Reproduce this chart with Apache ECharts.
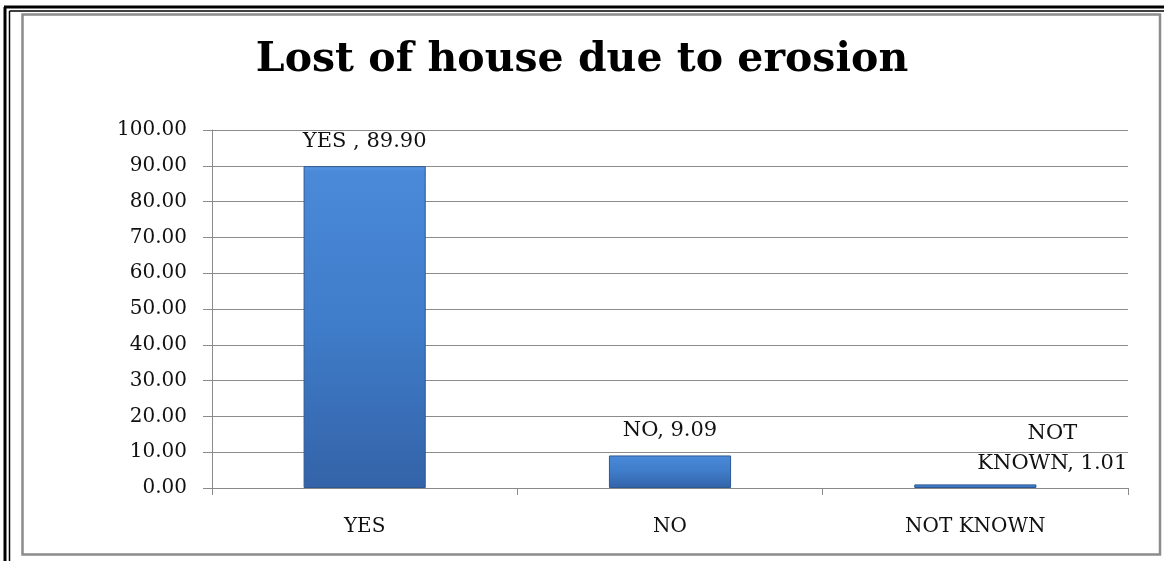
<!DOCTYPE html>
<html>
<head>
<meta charset="utf-8">
<style>
  html, body { margin: 0; padding: 0; background: #ffffff; }
  #chart { width: 1164px; height: 561px; }
</style>
<script src="https://cdn.jsdelivr.net/npm/echarts@6/dist/echarts.min.js"></script>
</head>
<body>
<div id="chart"></div>
<script>
// Answers to "lost of house due to erosion" (percent of respondents)
const categories = ['YES', 'NO', 'NOT KNOWN'];
const dataLabels = ['YES , 89.90', 'NO, 9.09', 'NOT\nKNOWN, 1.01'];
const percents = [89.90, 9.09, 1.01];
const yTicks = { min: 0, max: 100, interval: 10 };

const serif = '"DejaVu Serif", "Liberation Serif", serif';

// bevelled blue column: lighter at the top, darker towards the base
const barFill = new echarts.graphic.LinearGradient(0, 0, 0, 1, [
  { offset: 0, color: '#5a9be6' },
  { offset: 0.015, color: '#4a8ad9' },
  { offset: 0.5, color: '#3f7cc9' },
  { offset: 1, color: '#3463a8' }
]);

const chart = echarts.init(document.getElementById('chart'), null, { renderer: 'canvas' });

chart.setOption({
  animation: false,
  backgroundColor: '#ffffff',
  title: {
    text: 'Lost of house due to erosion',
    left: 'center',
    top: 35,
    textStyle: {
      fontFamily: serif,
      fontWeight: 'bold',
      fontSize: 41,
      color: '#000000'
    }
  },
  graphic: [
    // double frame on the top and left edges
    { type: 'line', shape: { x1: 4, y1: 7, x2: 1164, y2: 7 }, style: { stroke: '#000', lineWidth: 3 } },
    { type: 'line', shape: { x1: 5, y1: 7, x2: 5, y2: 561 }, style: { stroke: '#000', lineWidth: 3 } },
    { type: 'line', shape: { x1: 9.5, y1: 11, x2: 1164, y2: 11 }, style: { stroke: '#000', lineWidth: 1.5 } },
    { type: 'line', shape: { x1: 9.5, y1: 11, x2: 9.5, y2: 561 }, style: { stroke: '#000', lineWidth: 1.5 } },
    // chart area border
    { type: 'rect', shape: { x: 22.5, y: 14.5, width: 1137.5, height: 540 },
      style: { fill: 'none', stroke: '#8c8c8c', lineWidth: 2.5 }, z: -1 }
  ],
  grid: { left: 212, right: 36, top: 130, bottom: 73, containLabel: false },
  xAxis: {
    type: 'category',
    data: categories,
    axisLine: { lineStyle: { color: '#8a8a8a', width: 1 } },
    axisTick: { show: true, length: 7, alignWithLabel: false, lineStyle: { color: '#8a8a8a' } },
    axisLabel: { fontFamily: serif, fontSize: 20, color: '#111', margin: 29 }
  },
  yAxis: {
    type: 'value',
    min: yTicks.min,
    max: yTicks.max,
    interval: yTicks.interval,
    axisLine: { show: true, lineStyle: { color: '#8a8a8a', width: 1 } },
    axisTick: { show: true, length: 9, lineStyle: { color: '#8a8a8a' } },
    axisLabel: {
      fontFamily: serif, fontSize: 20, color: '#111', margin: 25,
      formatter: v => v.toFixed(2)
    },
    splitLine: { show: true, lineStyle: { color: '#8c8c8c', width: 1 } }
  },
  series: [{
    type: 'bar',
    data: percents.map((v, i) => ({
      value: v,
      label: i === 2
        ? { offset: [77, 0], align: 'center', distance: 6 }
        : {}
    })),
    barWidth: '40%',
    itemStyle: { color: barFill, borderColor: '#2c5894', borderWidth: 1 },
    label: {
      show: true,
      position: 'top',
      distance: 10,
      fontFamily: serif,
      fontSize: 21,
      color: '#111',
      lineHeight: 30,
      formatter: p => dataLabels[p.dataIndex]
    }
  }]
});
</script>
</body>
</html>
